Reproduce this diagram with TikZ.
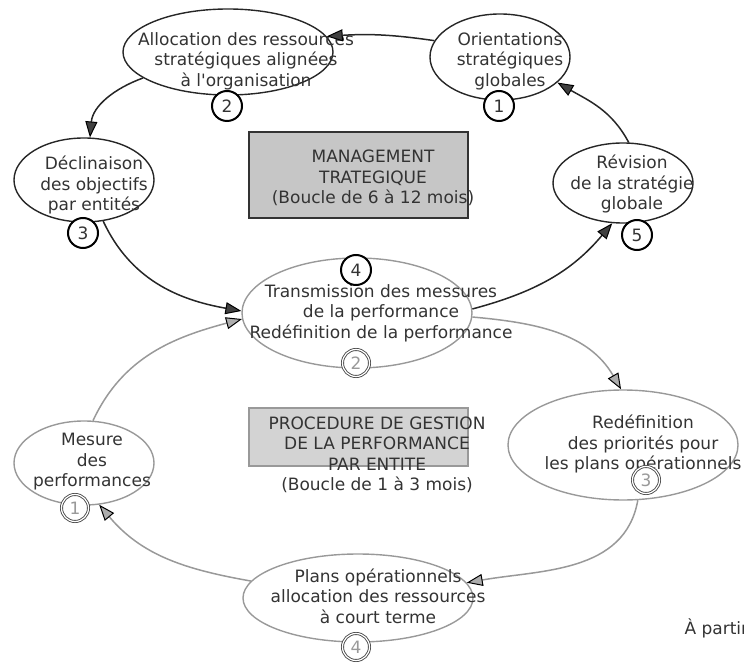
\documentclass[tikz,border=0pt]{standalone}
\usepackage{fontspec}
\setmainfont{DejaVu Sans}[Ligatures=TeXOff]
\usetikzlibrary{shapes.geometric}
\usetikzlibrary{arrows.meta}
\definecolor{txtgray}{HTML}{333333}
\definecolor{lowgray}{HTML}{999999}
\definecolor{boxdark}{HTML}{C6C6C6}
\definecolor{boxlight}{HTML}{D3D3D3}

\begin{document}
\begin{tikzpicture}[x=1pt, y=1pt,
		topell/.style={ellipse, draw=black!85, line width=1.4pt, inner sep=0pt},
		lowell/.style={ellipse, draw=lowgray, line width=1.4pt, inner sep=0pt},
		txt/.style={align=center, text=txtgray, font=\fontsize{17}{20.5}\selectfont},
		topnum/.style={circle, draw=black, line width=2pt, fill=white, minimum size=30pt, inner sep=0pt, text=txtgray, font=\fontsize{17}{20}\selectfont},
		lownum/.style={circle, draw=black!70, double=white, double distance=1.2pt, line width=0.9pt, fill=white, minimum size=27pt, inner sep=0pt, text=lowgray, font=\fontsize{17}{20}\selectfont},
		toparrow/.style={black!85, line width=1.5pt, -{Triangle[length=16pt, width=12pt, color=black, fill=black!75, line width=1pt]}},
		lowarrow/.style={lowgray, line width=1.5pt, -{Triangle[length=16pt, width=12pt, color=black, fill=lowgray!80, line width=1pt]}}]
		\useasboundingbox (0,0) rectangle (744,662);
		\clip (0,0) rectangle (744,662);
		
		\node[topell, minimum width=140pt, minimum height=86pt] (orient) at (500,605) {};
		\node[topell, minimum width=210pt, minimum height=86pt] (alloc) at (228,610) {};
		\node[topell, minimum width=140pt, minimum height=84pt] (decl) at (84,482) {};
		\node[topell, minimum width=140pt, minimum height=80pt] (revis) at (623,479) {};
		\node[lowell, minimum width=230pt, minimum height=110pt] (trans) at (357,349) {};
		\node[lowell, minimum width=230pt, minimum height=110pt] (redef) at (623,217) {};
		\node[lowell, minimum width=140pt, minimum height=84pt] (mesure) at (84,199) {};
		\node[lowell, minimum width=230pt, minimum height=88pt] (plans) at (358,64) {};
		
		\node[draw=black!80, fill=boxdark, line width=1.5pt, minimum width=219pt, minimum height=86pt] (mgmt) at (358.5,487) {};
		\node[draw=lowgray, fill=boxlight, line width=1.5pt, minimum width=219pt, minimum height=58pt] (proc) at (358.5,225) {};
		
		\node[txt] (orient-t) at (510,601) {Orientations\\stratégiques\\globales};
		\node[txt] (alloc-t) at (246,601) {Allocation des ressources\\stratégiques alignées\\à l'organisation};
		\node[txt] (decl-t) at (94,477) {Déclinaison\\des objectifs\\par entités};
		\node[txt] (revis-t) at (632,478) {Révision\\de la stratégie\\globale};
		\node[txt] (trans-t) at (381,349) {Transmission des messures\\de la performance\\Redéfinition de la performance};
		\node[txt] (redef-t) at (643,218) {Redéfinition\\des priorités pour\\les plans opérationnels};
		\node[txt] (mesure-t) at (92,200) {Mesure\\des\\performances};
		\node[txt] (plans-t) at (378,66) {Plans opérationnels\\allocation des ressources\\à court terme};
		\node[txt] (mgmt-t) at (373,484) {MANAGEMENT\\TRATEGIQUE\\(Boucle de 6 à 12 mois)};
		\node[txt] (proc-t) at (377,207) {PROCEDURE DE GESTION\\DE LA PERFORMANCE\\PAR ENTITE\\(Boucle de 1 à 3 mois)};
		\node[txt, anchor=west] (source) at (681,34) {À partir};
		
		\draw[toparrow] (orient.166) to[bend right=6] (alloc.9);
		\draw[toparrow] (alloc.197) to[out=200, in=85] (decl.82);
		\draw[toparrow] (decl.295) to[out=-65, in=170] (trans.179);
		\draw[toparrow] (trans.2) to[out=15, in=230] (revis.255);
		\draw[toparrow] (revis.82) to[out=118, in=-30] (orient.336);
		\draw[lowarrow] (trans.-2) to[out=-5, in=120] (redef.92);
		\draw[lowarrow] (redef.285) to[out=260, in=10] (plans.8);
		\draw[lowarrow] (plans.171) to[out=170, in=-50] (mesure.290);
		\draw[lowarrow] (mesure.78) to[out=65, in=195] (trans.183);
		
		\foreach \n/\px/\py in {1/499/556, 2/227/556, 3/83/429, 4/356/392, 5/637/427}
		{
			\node[topnum] (top\n) at (\px,\py) {\n};
		}
		\foreach \n/\px/\py in {1/75/154, 2/356/299, 3/646/182, 4/356/15}
		{
			\node[lownum] (low\n) at (\px,\py) {\n};
		}
	\end{tikzpicture}
\end{document}
